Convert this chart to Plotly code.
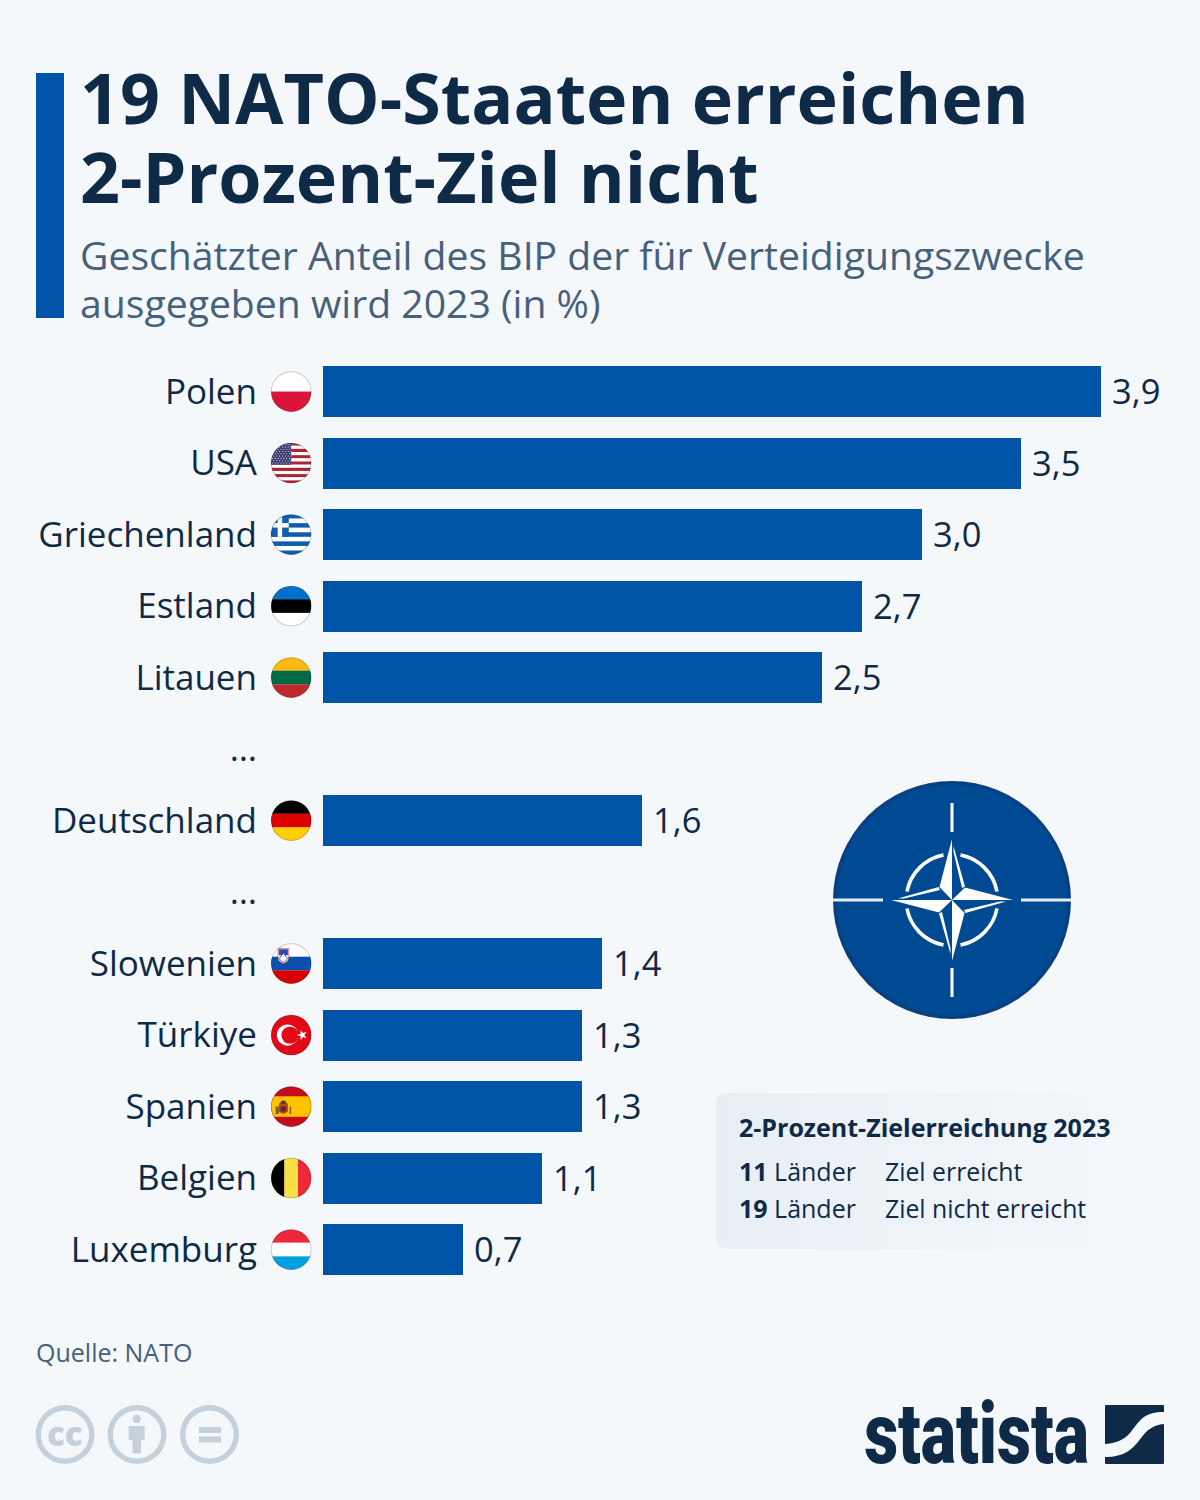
import base64
import plotly.graph_objects as go

# ---- data ----
categories = ["Polen", "USA", "Griechenland", "Estland", "Litauen", "…", "Deutschland", "…",
              "Slowenien", "Türkiye", "Spanien", "Belgien", "Luxemburg"]
values = [3.9, 3.5, 3.0, 2.7, 2.5, None, 1.6, None, 1.4, 1.3, 1.3, 1.1, 0.7]
title_lines = ["19 NATO-Staaten erreichen", "2-Prozent-Ziel nicht"]
subtitle_lines = ["Geschätzter Anteil des BIP der für Verteidigungszwecke", "ausgegeben wird 2023 (in %)"]
legend_title = "2-Prozent-Zielerreichung 2023"
legend_counts = ["<b>11</b> Länder", "<b>19</b> Länder"]
legend_labels = ["Ziel erreicht", "Ziel nicht erreicht"]
source = "Quelle: NATO"

W, H = 1200, 1500
BG = "#f5f8fb"
BAR = "#0054a8"
INK = "#0f2a47"
SUB = "#47607c"
FONT = "Open Sans"
ICON = "#c5d1da"


def px(x):
    return x / W


def py(y):
    return 1 - y / H


def uri(svg):
    return "data:image/svg+xml;base64," + base64.b64encode(svg.encode()).decode()


def image(svg, x, y, w, h, layer="above"):
    return dict(source=uri(svg), xref="paper", yref="paper", x=px(x), y=py(y), sizex=w / W, sizey=h / H,
                xanchor="left", yanchor="top", sizing="stretch", layer=layer)


def stripes_h(cols):
    n = len(cols)
    return "".join(f'<rect x="0" y="{i*100/n}" width="100" height="{100/n+0.3}" fill="{c}"/>' for i, c in enumerate(cols))


def stripes_v(cols):
    n = len(cols)
    return "".join(f'<rect y="0" x="{i*100/n}" height="100" width="{100/n+0.3}" fill="{c}"/>' for i, c in enumerate(cols))


def flag_us():
    s = stripes_h(["#b22234" if i % 2 == 0 else "#ffffff" for i in range(13)])
    s += '<rect width="50" height="54" fill="#3c3b6e"/>'
    for r in range(9):
        for c in range(7):
            s += f'<circle cx="{4+c*7+(3.5 if r%2 else 0)}" cy="{5+r*5.6}" r="1.3" fill="#fff"/>'
    return s


def flag_gr():
    s = stripes_h(["#0d5eaf" if i % 2 == 0 else "#ffffff" for i in range(9)])
    s += '<rect width="44" height="55.6" fill="#0d5eaf"/>'
    s += '<rect x="17" y="0" width="11" height="55.6" fill="#fff"/><rect x="0" y="22" width="44" height="11" fill="#fff"/>'
    return s


def flag_si():
    s = stripes_h(["#ffffff", "#0a4fb0", "#d80000"])
    s += '<path d="M18 13 H44 V36 Q44 46 31 50 Q18 46 18 36 Z" fill="#fff" stroke="#d8232a" stroke-width="1.5"/>'
    s += '<path d="M20 15 H42 V30 H20 Z" fill="#1f4fb5"/><path d="M21 38 L31 24 L41 38 Q37 45 31 47 Q25 45 21 38Z" fill="#fff" stroke="#1f4fb5" stroke-width="2"/>'
    return s


def flag_tr():
    s = '<rect width="100" height="100" fill="#e30a17"/>'
    s += '<circle cx="41" cy="50" r="26" fill="#fff"/><circle cx="47" cy="50" r="21" fill="#e30a17"/>'
    s += '<polygon points="64,50 73,53 73,62 79,55 88,58 82,50 88,42 79,45 73,38 73,47" fill="#fff"/>'
    return s


def flag_es():
    s = '<rect width="100" height="100" fill="#c60b1e"/><rect y="25" width="100" height="50" fill="#ffc400"/>'
    s += '<path d="M12 50 H20 V68 H12Z M46 50 H50 V68 H46Z" fill="#8a5a2b"/>'
    s += '<path d="M20 44 Q30 28 42 44 V62 Q31 74 20 62Z" fill="#a8502a"/>'
    s += '<path d="M26 36 H36 V44 H26Z" fill="#5a3a1c"/><path d="M24 50 H38 V62 H24Z" fill="#7b1e1e"/>'
    return s


def flag(kind):
    body = {
        "pl": stripes_h(["#ffffff", "#dc143c"]),
        "us": flag_us(),
        "gr": flag_gr(),
        "ee": stripes_h(["#0072ce", "#000000", "#ffffff"]),
        "lt": stripes_h(["#fdb913", "#006a44", "#c1272d"]),
        "de": stripes_h(["#000000", "#dd0000", "#ffce00"]),
        "si": flag_si(),
        "tr": flag_tr(),
        "es": flag_es(),
        "be": stripes_v(["#000000", "#fae042", "#ed2939"]),
        "lu": stripes_h(["#ed2939", "#ffffff", "#00a1de"]),
    }[kind]
    return ('<svg xmlns="http://www.w3.org/2000/svg" viewBox="0 0 100 100"><defs><clipPath id="c">'
            '<circle cx="50" cy="50" r="49"/></clipPath></defs>'
            f'<g clip-path="url(#c)">{body}</g>'
            '<circle cx="50" cy="50" r="48.5" fill="none" stroke="#000" stroke-opacity=".2" stroke-width="2.5"/></svg>')


flag_codes = ["pl", "us", "gr", "ee", "lt", None, "de", None, "si", "tr", "es", "be", "lu"]

# pixel layout of the plot area
ROW = 71.5
PLOT_TOP = 355.6
PLOT_BOT = PLOT_TOP + ROW * len(categories)
X0 = 323
SCALE = 199.5

fig = go.Figure()
ypos = list(range(len(categories)))
fig.add_bar(x=values, y=ypos, orientation="h", width=51.2 / ROW, marker=dict(color=BAR, line=dict(width=0)),
            hoverinfo="skip", showlegend=False)

annotations = []
images = []
shapes = []


def text(x, y, s, size, color=INK, anchor="left", weight=None, va="middle"):
    f = dict(family=FONT, size=size, color=color)
    if weight:
        f["weight"] = weight
    annotations.append(dict(x=px(x), y=py(y), xref="paper", yref="paper", text=s, showarrow=False, xanchor=anchor,
                            yanchor=va, font=f, align="left", borderpad=0, borderwidth=0))


# value labels, attached to the data coordinates
for i, v in zip(ypos, values):
    if v is not None:
        annotations.append(dict(x=v, y=i, xref="x", yref="y", text=f"{v:.1f}".replace(".", ","), showarrow=False,
                                xanchor="left", yanchor="middle", xshift=10, yshift=0.5, borderpad=0,
                                font=dict(family=FONT, size=34.5, color=INK)))

# flags
for i, code in zip(ypos, flag_codes):
    if code:
        cy = PLOT_TOP + ROW * (i + 0.5)
        images.append(image(flag(code), 270.7, cy - 20.3, 41, 41))

# title block
shapes.append(dict(type="rect", xref="paper", yref="paper", x0=px(36), x1=px(64), y0=py(73), y1=py(318),
                   fillcolor=BAR, line=dict(width=0), layer="below"))
for y, s in zip([97.5, 175.5], title_lines):
    text(80, y, s, 70, INK, weight=700)
for y, s in zip([254.9, 303], subtitle_lines):
    text(80, y, s, 39.15, SUB)

# NATO emblem
def nato_svg():
    spike = ('<polygon points="0,0 0,-61 -12.5,-13" fill="#fff"/>'
             '<polygon points="1.5,-54 13,-13.5 10,-12 1.5,-48" fill="#fff"/>')
    star = "".join(f'<g transform="rotate({a})">{spike}</g>' for a in (0, 90, 180, 270))
    arc = '<path d="M -8.5,-45 A 46 46 0 0 0 -45,-8.5" fill="none" stroke="#fff" stroke-width="3.6"/>'
    arcs = "".join(f'<g transform="rotate({a})">{arc}</g>' for a in (0, 90, 180, 270))
    line = '<rect x="-1.5" y="-97" width="3" height="29" fill="#fff"/>'
    lines = "".join(f'<g transform="rotate({a})">{line}</g>' for a in (0, 180))
    hl = '<rect x="-119" y="-1.5" width="50" height="3" fill="#e6ebf2"/>'
    lines += "".join(f'<g transform="rotate({a})">{hl}</g>' for a in (0, 180))
    return ('<svg xmlns="http://www.w3.org/2000/svg" viewBox="-120 -120 240 240">'
            '<circle r="119" fill="#0a3f80"/><circle r="115.5" fill="#004a94"/>'
            f'{lines}{arcs}{star}</svg>')


images.append(image(nato_svg(), 832, 780, 240, 240))

# legend box with fading gradient
box = ('<svg xmlns="http://www.w3.org/2000/svg" viewBox="0 0 430 156"><defs><linearGradient id="g">'
       '<stop offset="0" stop-color="#e8eff4"/><stop offset="1" stop-color="#e8eff4" stop-opacity="0.1"/></linearGradient></defs>'
       '<rect width="430" height="156" rx="11" fill="url(#g)"/></svg>')
images.append(image(box, 716, 1093, 430, 156, layer="below"))
text(739, 1126.8, legend_title, 25, INK, weight=700)
for y, c, l in zip([1170.8, 1207.8], legend_counts, legend_labels):
    text(739, y, c, 25, INK)
    text(885, y, l, 24.8, INK)

# source and licence icons
text(36, 1351.6, source, 25, SUB)
icons = ('<svg xmlns="http://www.w3.org/2000/svg" viewBox="0 0 204 60">'
         f'<g fill="none" stroke="{ICON}" stroke-width="5.4"><circle cx="30" cy="30" r="26.8"/>'
         '<circle cx="102" cy="30" r="26.8"/><circle cx="174.5" cy="30" r="26.8"/></g>'
         f'<g fill="{ICON}"><circle cx="101.7" cy="14.5" r="4.2"/><path d="M93.7 21.5 H109.7 V35.5 H106 V49 H97.5 V35.5 H93.7 Z"/>'
         '<rect x="164" y="22.5" width="22" height="6"/><rect x="164" y="32" width="22" height="6"/></g></svg>')
images.append(image(icons, 35, 1404.5, 204, 60))
text(65, 1433, "cc", 33, ICON, anchor="center", weight=800)

# statista mark
logo = ('<svg xmlns="http://www.w3.org/2000/svg" viewBox="0 0 59 59"><g fill="#0f2a47">'
        '<path d="M1 0 H58 Q59 0 59 1 V7 C40 7 36 14 28 24 C22 33 14 38 0 39 V1 Q0 0 1 0 Z"/>'
        '<path d="M59 19 V58 Q59 59 58 59 H1 Q0 59 0 58 V52 C20 52 28 44 36 33 C42 25 48 20 59 19 Z"/></g></svg>')
images.append(image(logo, 1105, 1405, 59, 59))
annotations.append(dict(x=px(1091), y=py(1433), xref="paper", yref="paper", text="statista", showarrow=False,
                        xanchor="right", yanchor="middle",
                        font=dict(family="Roboto", size=86, color=INK, weight=900)))

fig.update_layout(
    width=W, height=H, margin=dict(l=0, r=0, t=0, b=0, pad=0), paper_bgcolor=BG, plot_bgcolor="rgba(0,0,0,0)",
    showlegend=False, bargap=0, annotations=annotations, images=images, shapes=shapes,
    xaxis=dict(visible=False, domain=[px(X0), 1], range=[0, (W - X0) / SCALE], fixedrange=True),
    yaxis=dict(domain=[py(PLOT_BOT), py(PLOT_TOP)], range=[len(categories) - 0.5, -0.5], tickmode="array",
               tickvals=ypos, ticktext=categories, showgrid=False, zeroline=False, showline=False, ticks="",
               ticklabelstandoff=65, fixedrange=True, tickfont=dict(family=FONT, size=35, color=INK)),
)

# squeeze the wordmark horizontally (no condensed heavy face is installed)
squeeze = """
document.body.style.margin='0';
document.querySelectorAll('.annotation-text').forEach(function(t){
  if(t.textContent==='statista'){
    t.style.transformBox='fill-box';
    t.style.transformOrigin='100% 50%';
    t.style.transform='scaleX(0.77)';
  }
});
"""
fig.write_html("out.html", config=dict(displayModeBar=False), post_script=squeeze)
